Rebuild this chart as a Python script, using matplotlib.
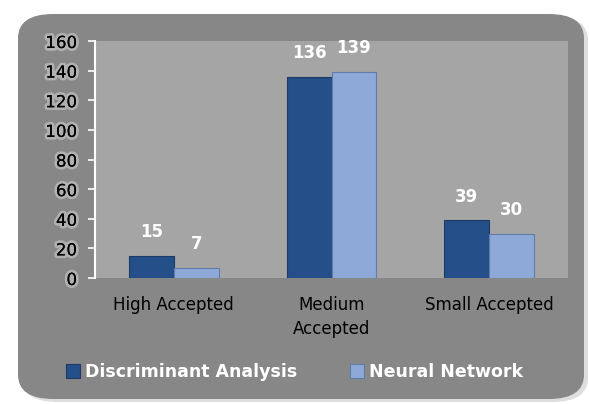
import matplotlib.pyplot as plt
import numpy as np
from matplotlib.patches import FancyBboxPatch
import matplotlib.patheffects as pe

categories = ["High Accepted", "Medium\nAccepted", "Small Accepted"]
discriminant = [15, 136, 39]
neural = [7, 139, 30]
series_names = ["Discriminant Analysis", "Neural Network"]
y_ticks = [0, 20, 40, 60, 80, 100, 120, 140, 160]

W, H = 589, 404
fig = plt.figure(figsize=(W / 100, H / 100), dpi=100)
fig.patch.set_facecolor("white")

# rounded grey frame with a soft shadow
shadow = FancyBboxPatch((22 / W, 2 / H), 566 / W, 386 / H,
                        boxstyle="round,pad=0,rounding_size=0.06",
                        transform=fig.transFigure, facecolor="#d0d0d0",
                        edgecolor="none", alpha=0.7, zorder=0)
frame = FancyBboxPatch((18 / W, 5 / H), 566 / W, 385 / H,
                       boxstyle="round,pad=0,rounding_size=0.06",
                       transform=fig.transFigure, facecolor="#878787",
                       edgecolor="none", zorder=1)
fig.patches.extend([shadow, frame])

ax = fig.add_axes([95 / W, (H - 278) / H, 473 / W, (278 - 41) / H])
ax.set_facecolor("#a5a5a5")
ax.set_zorder(2)

x = np.arange(len(categories))
w = 0.285
b1 = ax.bar(x - w / 2, discriminant, w, color="#254f88", edgecolor="#1b3a66",
            linewidth=0.8, label=series_names[0])
b2 = ax.bar(x + w / 2, neural, w, color="#8ea9d8", edgecolor="#5f7cab",
            linewidth=0.8, label=series_names[1])

for bars in (b1, b2):
    for r in bars:
        ax.annotate(f"{int(r.get_height())}",
                    (r.get_x() + r.get_width() / 2, r.get_height()),
                    xytext=(0, 17), textcoords="offset points",
                    ha="center", va="center", color="white",
                    fontsize=12, fontweight="bold")

ax.set_xlim(-0.5, 2.5)
ax.set_ylim(0, 160)
ax.set_yticks(y_ticks)
ax.set_xticks(x)
ax.set_xticklabels(categories, fontsize=12, color="black", linespacing=1.45)
ax.tick_params(axis="x", length=0, pad=13)
ax.tick_params(axis="y", length=5, width=1.2, color="white", labelsize=12,
               labelcolor="black", pad=8)
for lab in ax.get_yticklabels():
    lab.set_path_effects([pe.withStroke(linewidth=4, foreground="#ffffff", alpha=0.35),
                          pe.Normal()])

for s in ["top", "right", "bottom"]:
    ax.spines[s].set_visible(False)
ax.spines["left"].set_color("white")
ax.spines["left"].set_linewidth(1.5)

leg = fig.legend(loc="center", bbox_to_anchor=(0.5, 32 / H), ncol=2,
                 frameon=False, handlelength=0.8, handleheight=0.8,
                 handletextpad=0.3, columnspacing=3.0,
                 prop={"weight": "bold", "size": 12.5})
for t in leg.get_texts():
    t.set_color("white")

fig.savefig("out.png", dpi=100, facecolor=fig.get_facecolor())
